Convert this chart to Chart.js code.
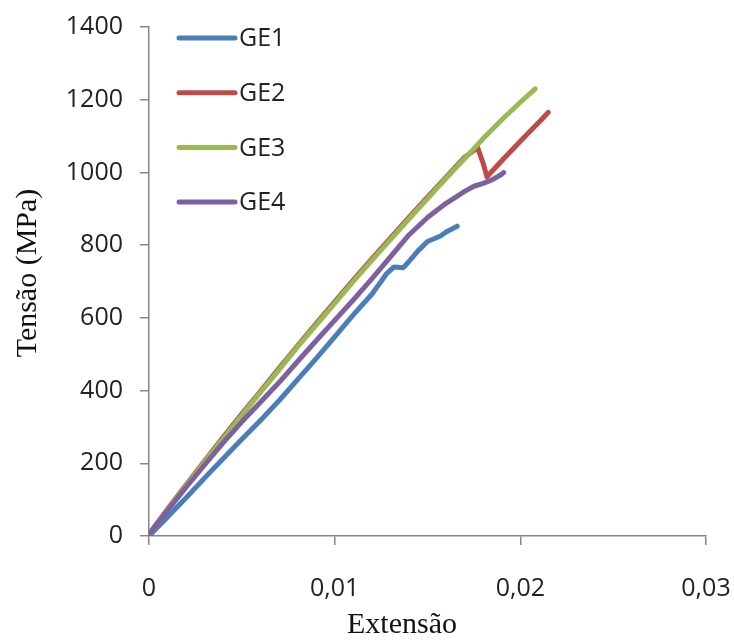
<!DOCTYPE html>
<html>
<head>
<meta charset="utf-8">
<script src="https://cdn.jsdelivr.net/npm/chart.js@4/dist/chart.umd.min.js"></script>
<style>
  body { margin: 0; background: #fff; }
  #wrap { width: 734px; height: 640px; }
</style>
</head>
<body>
<div id="wrap"><canvas id="myChart" width="734" height="640"></canvas></div>
<script>
// values
const seriesNames = ['GE1', 'GE2', 'GE3', 'GE4'];
const seriesColors = ['#4A7EBB', '#BE4B48', '#98B954', '#7D60A0'];

const ge1Strain = [0, 0.001, 0.002, 0.003, 0.004, 0.005, 0.006, 0.007, 0.008, 0.009, 0.010, 0.011, 0.012, 0.0125, 0.0128, 0.0132, 0.0137, 0.014, 0.0145, 0.015, 0.0157, 0.016, 0.0166];
const ge1Stress = [0, 52, 105, 160, 213, 266, 318, 372, 430, 488, 548, 608, 665, 700, 722, 740, 738, 755, 785, 810, 825, 836, 852];

const ge2Strain = [0, 0.001, 0.002, 0.003, 0.004, 0.005, 0.006, 0.007, 0.008, 0.009, 0.010, 0.011, 0.012, 0.013, 0.014, 0.015, 0.016, 0.017, 0.0177, 0.0180, 0.0182, 0.0190, 0.0200, 0.0210, 0.0215];
const ge2Stress = [5, 74, 141, 207, 272, 336, 398, 461, 523, 584, 644, 704, 762, 819, 876, 932, 987, 1042, 1068, 1025, 988, 1032, 1086, 1138, 1165];

const ge3Strain = [0, 0.001, 0.002, 0.003, 0.004, 0.005, 0.006, 0.007, 0.008, 0.009, 0.010, 0.011, 0.012, 0.013, 0.014, 0.015, 0.016, 0.017, 0.018, 0.019, 0.020, 0.0208];
const ge3Stress = [5, 72, 138, 204, 268, 332, 395, 457, 520, 580, 640, 700, 758, 815, 872, 928, 984, 1038, 1093, 1145, 1193, 1230];

const ge4Strain = [0, 0.001, 0.002, 0.003, 0.004, 0.005, 0.006, 0.007, 0.008, 0.009, 0.010, 0.011, 0.012, 0.013, 0.014, 0.015, 0.016, 0.017, 0.0175, 0.018, 0.0185, 0.019, 0.0191];
const ge4Stress = [5, 70, 134, 196, 257, 314, 368, 422, 480, 537, 593, 649, 707, 768, 828, 876, 915, 948, 962, 970, 980, 995, 1000];

const xTickLabels = ['0', '0,01', '0,02', '0,03'];
const xTitle = 'Extensão';
const yTitle = 'Tensão (MPa)';

const AXIS_GREY = '#868686';

function toPoints(xs, ys) {
    return xs.map((x, i) => ({ x: x, y: ys[i] }));
}

const allStrain = [ge1Strain, ge2Strain, ge3Strain, ge4Strain];
const allStress = [ge1Stress, ge2Stress, ge3Stress, ge4Stress];

const datasets = seriesNames.map((name, i) => ({
    label: name,
    data: toPoints(allStrain[i], allStress[i]),
    borderColor: seriesColors[i],
    backgroundColor: seriesColors[i],
    borderWidth: 5,
    pointRadius: 0,
    borderCapStyle: 'round',
    borderJoinStyle: 'round',
    order: 4 - i
}));

// legend and axis titles drawn where the reference has them
const extras = {
    id: 'extras',
    afterDraw(chart) {
        const c = chart.ctx;
        const area = chart.chartArea;
        c.save();
        c.font = '25px "Open Sans"';
        c.textBaseline = 'middle';
        chart.data.datasets.forEach((ds, i) => {
            const y = area.top + 11 + i * 54.7;
            c.strokeStyle = ds.borderColor;
            c.lineWidth = 5;
            c.lineCap = 'round';
            c.beginPath();
            c.moveTo(area.left + 30, y);
            c.lineTo(area.left + 86, y);
            c.stroke();
            c.fillStyle = '#222';
            c.textAlign = 'left';
            c.fillText(ds.label, area.left + 90, y + 1);
        });

        c.fillStyle = '#111';
        c.font = '30px "Liberation Serif"';
        c.textAlign = 'center';
        c.fillText(xTitle, 402, 625);
        c.translate(28, 273);
        c.rotate(-Math.PI / 2);
        c.fillText(yTitle, 0, 0);
        c.restore();
    }
};

const ctx = document.getElementById('myChart').getContext('2d');
const myChart = new Chart(ctx, {
    type: 'line',
    data: { datasets: datasets },
    options: {
        responsive: false,
        animation: false,
        layout: { padding: { top: 27, right: 28, left: 0, bottom: 0 } },
        plugins: {
            legend: { display: false },
            tooltip: { enabled: false }
        },
        scales: {
            x: {
                type: 'linear',
                min: 0,
                max: 0.03,
                afterFit: (s) => { s.height = 104; s.paddingLeft = 0; s.paddingRight = 0; },
                afterBuildTicks: (s) => { s.ticks = [0, 0.01, 0.02, 0.03].map(v => ({ value: v })); },
                ticks: {
                    color: '#222',
                    font: { family: 'Open Sans', size: 25 },
                    padding: 29,
                    maxRotation: 0,
                    callback: (v, i) => xTickLabels[i]
                },
                grid: { drawOnChartArea: false, color: AXIS_GREY, tickLength: 9, lineWidth: 1.5 },
                border: { color: AXIS_GREY, width: 1.5 }
            },
            y: {
                min: 0,
                max: 1400,
                afterFit: (s) => { s.width = 149; s.paddingTop = 0; s.paddingBottom = 0; },
                ticks: {
                    stepSize: 200,
                    color: '#222',
                    font: { family: 'Open Sans', size: 25 },
                    padding: 17,
                    callback: (v) => String(v)
                },
                grid: { drawOnChartArea: false, color: AXIS_GREY, tickLength: 9, lineWidth: 1.5 },
                border: { color: AXIS_GREY, width: 1.5 }
            }
        }
    },
    plugins: [extras]
});
</script>
</body>
</html>
